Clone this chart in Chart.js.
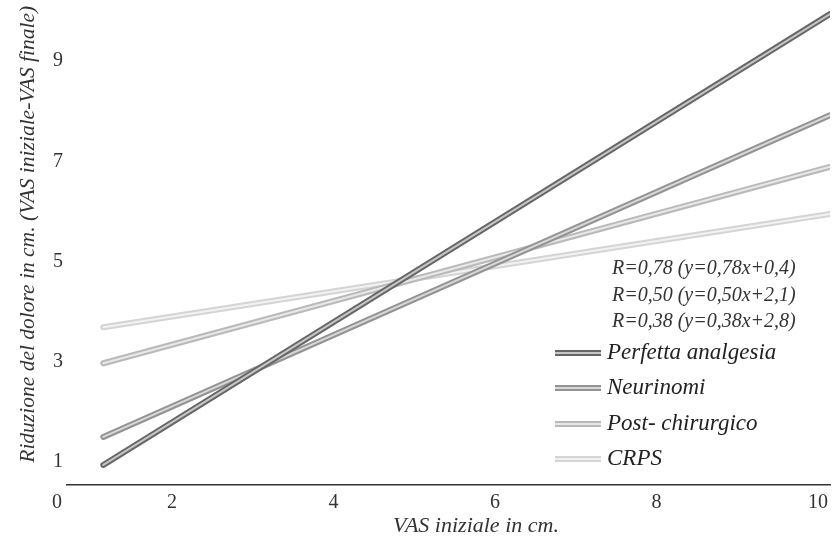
<!DOCTYPE html>
<html>
<head>
<meta charset="utf-8">
<script src="https://cdn.jsdelivr.net/npm/chart.js@4.4.1/dist/chart.umd.min.js"></script>
<style>
  body { margin: 0; background: #fff; }
  #wrap { position: relative; width: 837px; height: 536px; }
  .note { position: absolute; left: 612px; font: italic 20px "Liberation Serif", serif; line-height: 22px; color: #333; white-space: nowrap; }
  .leg { position: absolute; left: 555px; font: italic 23px "Liberation Serif", serif; line-height: 30px; color: #222; white-space: nowrap; }
  .sw { display: inline-block; width: 46px; height: 6px; margin-right: 6px; vertical-align: 3px; }
</style>
</head>
<body>
<div id="wrap">
  <canvas id="chart" width="837" height="536"></canvas>
  <div id="notes"></div>
  <div id="legend"></div>
</div>
<script>
// valori (estremi delle rette di regressione)
const xVals = [1.15, 10.15];
const perfetta = [0.94, 9.94];
const neurinomi = [1.50, 7.92];
const postChir = [2.97, 6.89];
const crps = [3.69, 5.95];

const seriesNames = ['Perfetta analgesia', 'Neurinomi', 'Post- chirurgico', 'CRPS'];
const seriesData = [perfetta, neurinomi, postChir, crps];
// colore bordo / colore centrale del "tubo"
const edgeColors = ['#666666', '#939393', '#b9b9b9', '#d4d4d4'];
const coreColors = ['#c6c6c6', '#d8d8d8', '#e8e8e8', '#f2f2f2'];

const notes = ['R=0,78 (y=0,78x+0,4)', 'R=0,50 (y=0,50x+2,1)', 'R=0,38 (y=0,38x+2,8)'];
const xTicks = [2, 4, 6, 8, 10];
const yTicks = [1, 3, 5, 7, 9];
const xMin = 0.7, xMax = 10.15, yMin = 0.54, yMax = 10.12;

const datasets = [];
seriesData.forEach(function (vals, i) {
  const pts = xVals.map((x, j) => ({ x: x, y: vals[j] }));
  // linea chiara centrale sopra
  datasets.push({
    label: seriesNames[i] + ' (luce)',
    data: pts,
    borderColor: coreColors[i],
    borderWidth: 2,
    borderCapStyle: 'round',
    pointRadius: 0,
    order: i * 2
  });
  // bordo scuro sotto
  datasets.push({
    label: seriesNames[i],
    data: pts,
    borderColor: edgeColors[i],
    borderWidth: 6,
    borderCapStyle: 'round',
    pointRadius: 0,
    order: i * 2 + 1
  });
});

const serif = '"Liberation Serif", serif';

new Chart(document.getElementById('chart'), {
  type: 'line',
  data: { datasets: datasets },
  options: {
    responsive: false,
    animation: false,
    layout: { padding: { top: 5, right: 7, left: 0, bottom: 0 } },
    plugins: { legend: { display: false }, tooltip: { enabled: false } },
    scales: {
      x: {
        type: 'linear',
        min: xMin,
        max: xMax,
        grid: { display: false, drawTicks: false },
        border: { display: true, color: '#333', width: 1.5 },
        afterBuildTicks: function (s) {
          s.ticks = [{ value: xMin }].concat(xTicks.map(v => ({ value: v })));
        },
        afterFit: function (s) {
          s.height = 51;
          s.paddingLeft = 0;
          s.paddingRight = 0;
        },
        ticks: {
          padding: 6,
          color: '#333',
          font: { family: serif, size: 20 },
          maxRotation: 0,
          // lo "0" sta un po' a sinistra dell'inizio asse
          callback: function (v) { return v === xMin ? '0\u2003' : v; }
        },
        title: {
          display: true,
          text: '\u2003\u2003\u2002VAS iniziale in cm.',
          color: '#333',
          font: { family: serif, size: 22, style: 'italic' },
          padding: { top: 0, bottom: -3 }
        }
      },
      y: {
        min: yMin,
        max: yMax,
        grid: { display: false, drawTicks: false },
        border: { display: false },
        afterBuildTicks: function (s) {
          s.ticks = yTicks.map(v => ({ value: v }));
        },
        afterFit: function (s) {
          s.width = 67;
          s.paddingTop = 0;
          s.paddingBottom = 0;
        },
        ticks: {
          padding: 4,
          color: '#333',
          font: { family: serif, size: 20 }
        },
        title: {
          display: true,
          text: '\u2003Riduzione del dolore in cm. (VAS iniziale-VAS finale)',
          color: '#333',
          font: { family: serif, size: 21.5, style: 'italic' },
          padding: { top: 15, bottom: 0 }
        }
      }
    }
  }
});

// annotazioni R
const notesEl = document.getElementById('notes');
notes.forEach(function (t, i) {
  const d = document.createElement('div');
  d.className = 'note';
  d.style.top = (256 + i * 26.5) + 'px';
  d.textContent = t;
  notesEl.appendChild(d);
});

// legenda
const legEl = document.getElementById('legend');
seriesNames.forEach(function (name, i) {
  const d = document.createElement('div');
  d.className = 'leg';
  d.style.top = (337 + i * 35.3) + 'px';
  const sw = document.createElement('span');
  sw.className = 'sw';
  sw.style.background = 'linear-gradient(' + edgeColors[i] + ' 0 2px, ' + coreColors[i] + ' 2px 4px, ' + edgeColors[i] + ' 4px 6px)';
  d.appendChild(sw);
  d.appendChild(document.createTextNode(name));
  legEl.appendChild(d);
});
</script>
</body>
</html>
